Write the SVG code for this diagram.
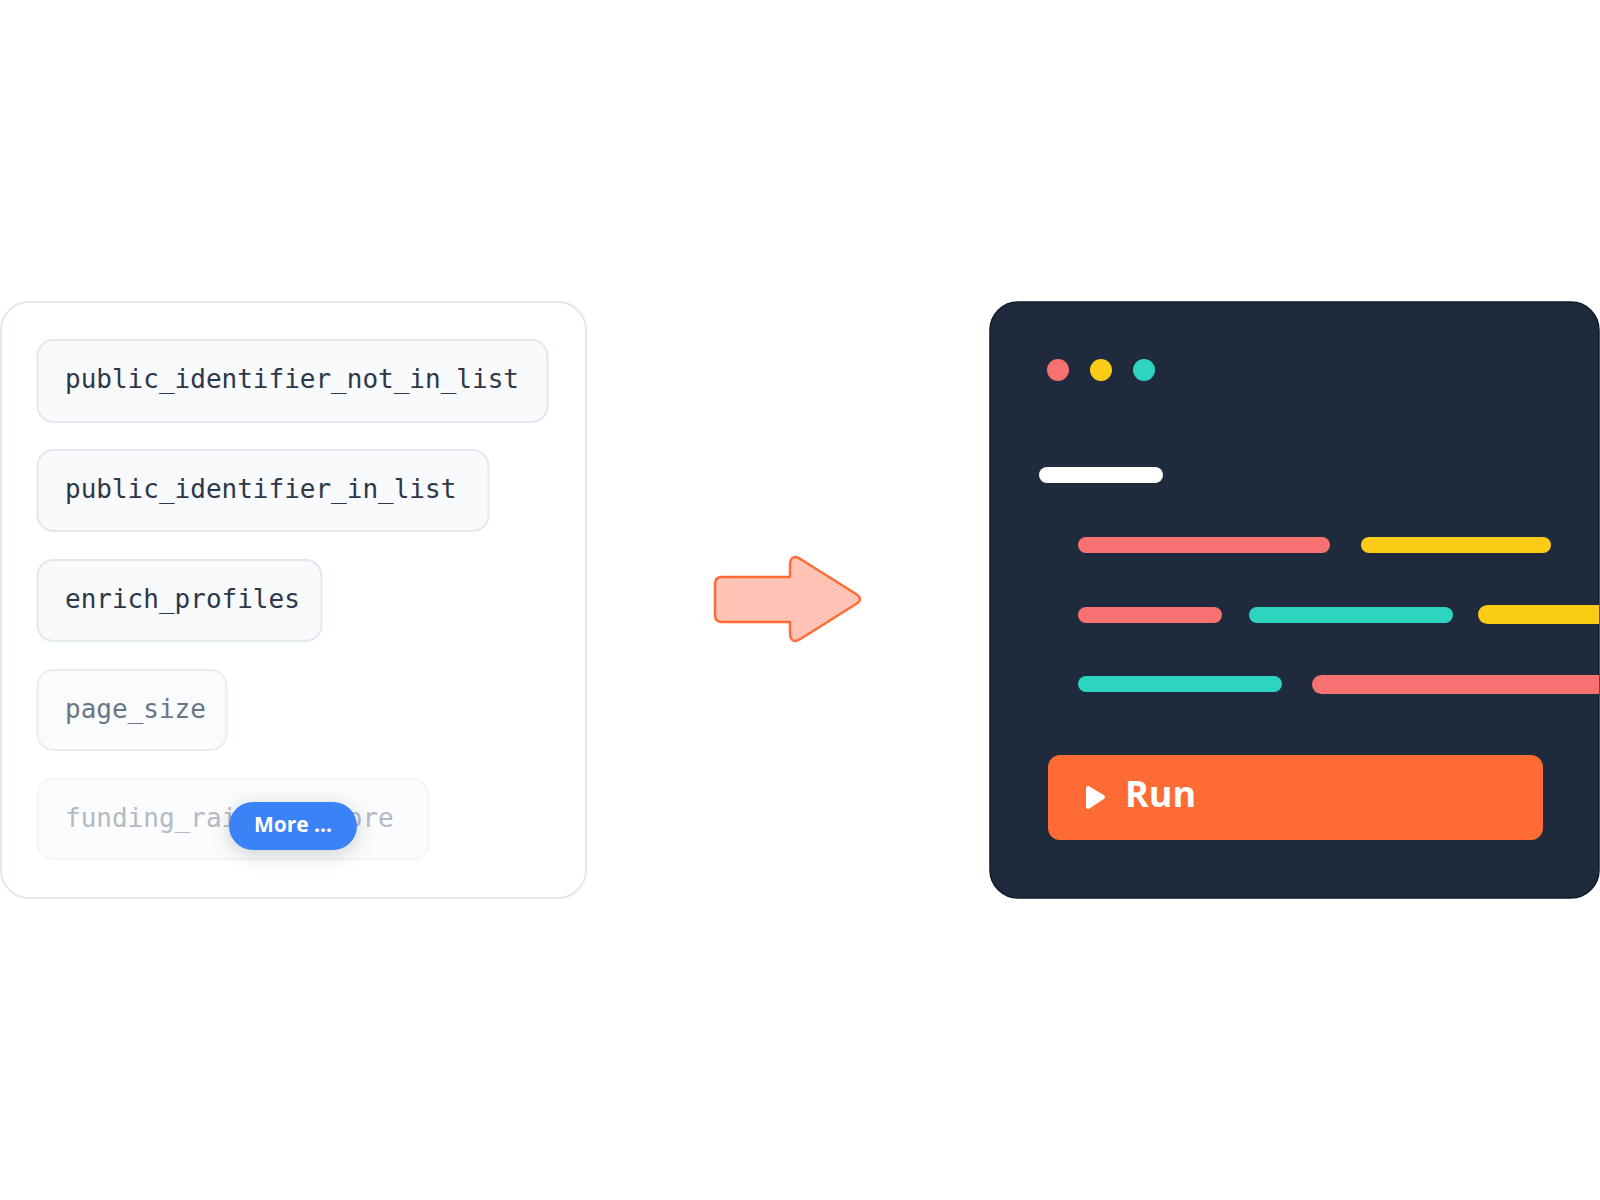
<svg xmlns="http://www.w3.org/2000/svg" width="1600" height="1200" viewBox="0 0 1600 1200">
  <style>
    .chip { fill: #f8fafc; stroke: #e2e8f0; stroke-width: 2; }
    .mono { font-family: "DejaVu Sans Mono", "Liberation Mono", monospace; font-size: 26px; }
    .bar { stroke: none; }
  </style>
  <defs>
    <filter id="shadow" x="-50%" y="-80%" width="200%" height="260%">
      <feDropShadow dx="0" dy="4" stdDeviation="10" flood-color="#000000" flood-opacity="0.18"/>
    </filter>
    <clipPath id="rightClip">
      <rect x="990" y="302" width="609" height="596" rx="28"/>
    </clipPath>
  </defs>
  <rect width="1600" height="1200" fill="#ffffff"/>

  <g id="params-panel">
    <rect x="1" y="302" width="585" height="596" rx="28" fill="#ffffff" stroke="#e2e8f0" stroke-width="2"/>
  </g>
  <g id="chip-public-identifier-not-in-list">
    <rect class="chip" x="37.5" y="340" width="510" height="82" rx="16"/>
    <text class="mono" x="65" y="388" fill="#2d3748">public_identifier_not_in_list</text>
  </g>
  <g id="chip-public-identifier-in-list">
    <rect class="chip" x="37.5" y="450" width="451" height="81" rx="16"/>
    <text class="mono" x="65" y="498" fill="#2d3748">public_identifier_in_list</text>
  </g>
  <g id="chip-enrich-profiles">
    <rect class="chip" x="37.5" y="560" width="284" height="81" rx="16"/>
    <text class="mono" x="65" y="608" fill="#2d3748">enrich_profiles</text>
  </g>
  <g id="chip-page-size">
    <rect class="chip" x="37.5" y="670" width="189" height="80" rx="16" style="stroke:#e9eef4; fill:#f9fbfc"/>
    <text class="mono" x="65" y="718" fill="#6b7585">page_size</text>
  </g>
  <g id="chip-funding-raised-before">
    <rect class="chip" x="37.5" y="779" width="391" height="80" rx="16" style="stroke:#f1f4f8; fill:#fbfcfd"/>
    <text class="mono" x="65" y="827" fill="#b3bac4">funding_raised_before</text>
  </g>
  <g id="more-button">
    <rect x="229" y="802" width="128" height="48" rx="24" fill="#3b82f6" filter="url(#shadow)"/>
    <text x="293" y="832" text-anchor="middle" font-family="'Open Sans', 'Liberation Sans', sans-serif" font-size="21" font-weight="700" fill="#ffffff">More ...</text>
  </g>

  <g id="connectors">
    <path d="M 722 577 L 790 577 L 790 566 Q 790 552 802 560 L 856 594 Q 864 599 856 604 L 802 638 Q 790 646 790 632 L 790 622 L 722 622 Q 715 622 715 615 L 715 584 Q 715 577 722 577 Z" fill="#ffc4b5" stroke="#ff6b35" stroke-width="2.5" stroke-linejoin="round"/>
  </g>

  <g id="editor-panel">
    <rect x="990" y="302" width="609" height="596" rx="28" fill="#1f2a3c" stroke="#111827" stroke-width="1.5"/>
    <circle cx="1058" cy="370" r="11" fill="#f87171"/>
    <circle cx="1101" cy="370" r="11" fill="#facc15"/>
    <circle cx="1144" cy="370" r="11" fill="#2dd4bf"/>
    <g clip-path="url(#rightClip)">
      <rect class="bar" x="1039" y="467" width="124" height="16" rx="8" fill="#ffffff"/>
      <rect class="bar" x="1078" y="537" width="252" height="16" rx="8" fill="#f87171"/>
      <rect class="bar" x="1361" y="537" width="190" height="16" rx="8" fill="#facc15"/>
      <rect class="bar" x="1078" y="607" width="144" height="16" rx="8" fill="#f87171"/>
      <rect class="bar" x="1249" y="607" width="204" height="16" rx="8" fill="#2dd4bf"/>
      <rect class="bar" x="1478" y="605" width="160" height="19" rx="9.5" fill="#facc15"/>
      <rect class="bar" x="1078" y="676" width="204" height="16" rx="8" fill="#2dd4bf"/>
      <rect class="bar" x="1312" y="675" width="330" height="19" rx="9.5" fill="#f87171"/>
    </g>
  </g>
  <g id="run-button">
    <rect x="1048" y="755" width="495" height="85" rx="12" fill="#ff6b35"/>
    <path d="M 1088 788 L 1103 797 L 1088 807 Z" fill="#ffffff" stroke="#ffffff" stroke-width="4" stroke-linejoin="round"/>
    <text x="1125" y="807" font-family="'Open Sans', 'Liberation Sans', sans-serif" font-size="36" font-weight="700" fill="#ffffff">Run</text>
  </g>
</svg>
